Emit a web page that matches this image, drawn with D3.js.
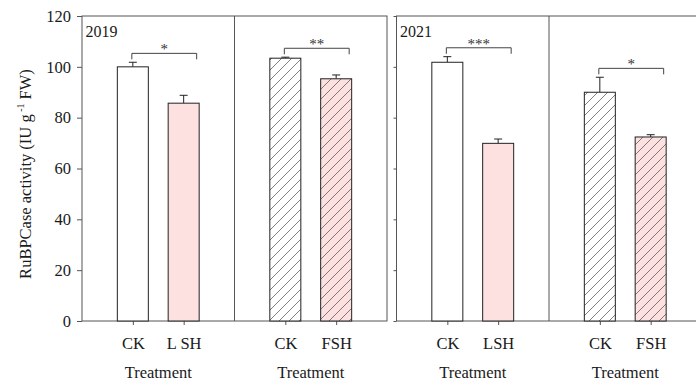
<!DOCTYPE html>
<html>
<head>
<meta charset="utf-8">
<script src="https://cdn.jsdelivr.net/npm/d3@7"></script>
<style>
  html, body { margin: 0; padding: 0; background: #fff; }
  svg text { font-family: 'Liberation Serif', 'Times New Roman', Tinos, 'DejaVu Serif', serif; }
</style>
</head>
<body>
<svg id="chart" width="696" height="382"></svg>
<script>
// RuBPCase activity by treatment, two seasons
const years = ["2019", "2021"];
const groupCats2019 = [["CK", "L SH"], ["CK", "FSH"]];
const groupCats2021 = [["CK", "LSH"], ["CK", "FSH"]];
const values2019 = [100.0, 85.7, 103.4, 95.3];
const errors2019 = [1.8, 3.1, 0.4, 1.5];
const values2021 = [101.8, 69.9, 90.0, 72.4];
const errors2021 = [2.2, 1.7, 5.9, 0.9];
const signif2019 = ["*", "**"];
const signif2021 = ["***", "*"];
const yTicks = [0, 20, 40, 60, 80, 100, 120];
const xTitle = "Treatment";

const panels = [
  { year: years[0], cats: groupCats2019, values: values2019, errors: errors2019, signif: signif2019, x0: 82, labels: true },
  { year: years[1], cats: groupCats2021, values: values2021, errors: errors2021, signif: signif2021, x0: 396.5, labels: false }
];

const svg = d3.select("#chart");
const plotTop = 16, plotBottom = 321, panelW = 305, halfW = panelW / 2, barW = 31;
const axisColor = "#555", barStroke = "#222", pink = "#fde0e0", textColor = "#1a1a1a";
const labelSize = 16.5;

const y = d3.scaleLinear().domain([0, 120]).range([plotBottom, plotTop]);

// diagonal hatch for the second group of each season
const defs = svg.append("defs");
defs.append("pattern")
  .attr("id", "hatch")
  .attr("patternUnits", "userSpaceOnUse")
  .attr("width", 10).attr("height", 10)
  .append("path")
  .attr("d", "M-2.5,2.5 L2.5,-2.5 M0,10 L10,0 M7.5,12.5 L12.5,7.5")
  .attr("stroke", "#555").attr("stroke-width", 0.75).attr("fill", "none");

panels.forEach(p => {
  const g = svg.append("g");

  // frame
  g.append("rect")
    .attr("x", p.x0).attr("y", plotTop)
    .attr("width", panelW).attr("height", plotBottom - plotTop)
    .attr("fill", "none").attr("stroke", axisColor).attr("stroke-width", 1);
  g.append("line")
    .attr("x1", p.x0 + halfW).attr("x2", p.x0 + halfW)
    .attr("y1", plotTop).attr("y2", plotBottom)
    .attr("stroke", axisColor).attr("stroke-width", 1);

  // y axis
  const yAxis = d3.axisLeft(y).tickValues(yTicks)
    .tickSize(p.labels ? 5 : 3).tickPadding(6)
    .tickFormat(p.labels ? d3.format("d") : () => "");
  const ya = g.append("g").attr("transform", `translate(${p.x0},0)`).call(yAxis);
  ya.select(".domain").remove();
  ya.selectAll("line").attr("stroke", axisColor);
  ya.selectAll("text").attr("font-size", labelSize).attr("fill", textColor);

  // season label
  g.append("text")
    .attr("x", p.x0 + 3.5).attr("y", 37)
    .attr("font-size", 16).attr("fill", textColor)
    .text(p.year);

  p.cats.forEach((cats, gi) => {
    const gx0 = p.x0 + gi * halfW;
    const x = d3.scalePoint().domain(cats.map((c, i) => i)).range([gx0, gx0 + halfW]).padding(1);
    const hatched = gi === 1;

    // category axis
    const xa = g.append("g").attr("transform", `translate(0,${plotBottom})`)
      .call(d3.axisBottom(x).tickSize(4).tickPadding(12.5).tickFormat(i => cats[i]));
    xa.select(".domain").remove();
    xa.selectAll("line").attr("stroke", axisColor);
    xa.selectAll("text").attr("font-size", labelSize).attr("fill", textColor);

    g.append("text")
      .attr("x", gx0 + halfW / 2).attr("y", 378)
      .attr("text-anchor", "middle").attr("font-size", labelSize).attr("fill", textColor)
      .text(xTitle);

    cats.forEach((c, i) => {
      const v = p.values[gi * 2 + i];
      const e = p.errors[gi * 2 + i];
      const cx = x(i);
      // error bar (upper only)
      g.append("line")
        .attr("x1", cx).attr("x2", cx).attr("y1", y(v)).attr("y2", y(v + e))
        .attr("stroke", barStroke).attr("stroke-width", 1);
      g.append("line")
        .attr("x1", cx - 4).attr("x2", cx + 4).attr("y1", y(v + e)).attr("y2", y(v + e))
        .attr("stroke", barStroke).attr("stroke-width", 1);
      // bar
      g.append("rect")
        .attr("x", cx - barW / 2).attr("y", y(v))
        .attr("width", barW).attr("height", y(0) - y(v))
        .attr("fill", i === 0 ? "#fff" : pink);
      if (hatched) {
        g.append("rect")
          .attr("x", cx - barW / 2).attr("y", y(v))
          .attr("width", barW).attr("height", y(0) - y(v))
          .attr("fill", "url(#hatch)");
      }
      g.append("rect")
        .attr("x", cx - barW / 2).attr("y", y(v))
        .attr("width", barW).attr("height", y(0) - y(v))
        .attr("fill", "none").attr("stroke", barStroke).attr("stroke-width", 1);
    });

    // significance bracket above the taller error bar
    const level = d3.max([0, 1], i => p.values[gi * 2 + i] + p.errors[gi * 2 + i]) + 3.5;
    const bx1 = x(0) - 1, bx2 = x(1) + 13, by = y(level);
    g.append("path")
      .attr("d", `M${bx1},${by + 6} V${by} H${bx2} V${by + 6}`)
      .attr("fill", "none").attr("stroke", "#444").attr("stroke-width", 1);
    g.append("text")
      .attr("x", (bx1 + bx2) / 2).attr("y", by + 1)
      .attr("text-anchor", "middle").attr("font-size", 15).attr("fill", "#333")
      .text(p.signif[gi]);
  });
});

// y-axis title
svg.append("text")
  .attr("transform", "translate(31,174) rotate(-90)")
  .attr("text-anchor", "middle").attr("font-size", labelSize).attr("fill", textColor)
  .call(t => {
    t.append("tspan").text("RuBPCase activity (IU g");
    t.append("tspan").attr("font-size", 10).attr("dy", -7).text(" -1");
    t.append("tspan").attr("dy", 7).text(" FW)");
  });
</script>
</body>
</html>
